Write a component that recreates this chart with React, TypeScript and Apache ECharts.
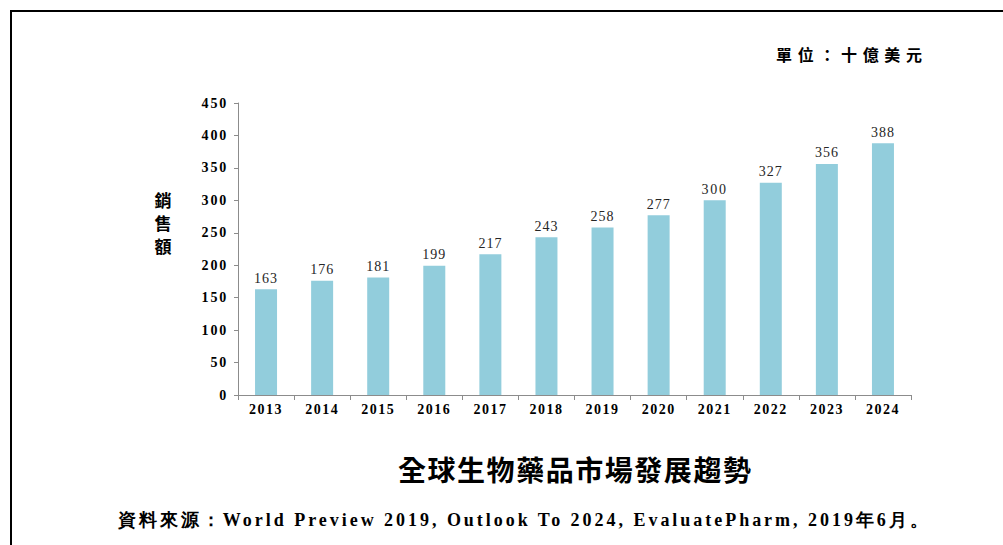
import React, { useEffect, useRef } from "react";
import * as echarts from "echarts";

const years = ["2013", "2014", "2015", "2016", "2017", "2018", "2019", "2020", "2021", "2022", "2023", "2024"];
const sales = [163, 176, 181, 199, 217, 243, 258, 277, 300, 327, 356, 388];
const yTicks = { min: 0, max: 450, interval: 50 };
const title = "全球生物藥品市場發展趨勢";
const unitText = "單位：十億美元";
const yName = "銷\n售\n額";
const sourceText = "資料來源：World Preview 2019, Outlook To 2024, EvaluatePharm, 2019年6月。";

const serif = "'Liberation Serif', 'Times New Roman', serif";
const cjk = "'Noto Sans CJK TC', 'Noto Sans CJK SC', sans-serif";

export default function App() {
  const ref = useRef<HTMLDivElement>(null);
  useEffect(() => {
    document.body.style.margin = "0";
    const chart = echarts.init(ref.current!, undefined, { renderer: "svg" });
    chart.setOption({
      animation: false,
      backgroundColor: "#ffffff",
      grid: { left: 238, right: 92, top: 103, bottom: 150, containLabel: false },
      xAxis: {
        type: "category",
        data: years,
        axisLine: { lineStyle: { color: "#8c8c8c", width: 1 } },
        axisTick: { show: true, length: 5, alignWithLabel: false, lineStyle: { color: "#8c8c8c" } },
        axisLabel: { color: "#000", fontFamily: serif, fontWeight: "bold", fontSize: 14, margin: 7 },
      },
      yAxis: {
        type: "value",
        min: yTicks.min,
        max: yTicks.max,
        interval: yTicks.interval,
        splitLine: { show: false },
        axisLine: { show: true, lineStyle: { color: "#8c8c8c", width: 1 } },
        axisTick: { show: true, length: 4, lineStyle: { color: "#8c8c8c" } },
        axisLabel: { color: "#000", fontFamily: serif, fontWeight: "bold", fontSize: 14, margin: 10 },
      },
      series: [
        {
          type: "bar",
          data: sales,
          barWidth: 22,
          itemStyle: { color: "#92cddc" },
          label: {
            show: true,
            position: "top",
            distance: 4,
            color: "#262626",
            fontFamily: serif,
            fontSize: 14,
          },
        },
      ],
      graphic: [
        {
          type: "rect",
          shape: { x: 11, y: 11, width: 1010, height: 560 },
          style: { fill: "none", stroke: "#000", lineWidth: 2 },
          silent: true,
        },
        {
          type: "text",
          x: 776,
          y: 54,
          style: {
            text: unitText,
            fill: "#000",
            font: `bold 16px ${cjk}`,
            align: "left",
            verticalAlign: "middle",
          },
        },
        {
          type: "text",
          x: 163,
          y: 222,
          style: {
            text: yName,
            fill: "#000",
            font: `bold 17px ${cjk}`,
            lineHeight: 23,
            align: "center",
            verticalAlign: "middle",
          },
        },
        {
          type: "text",
          x: 398,
          y: 469,
          style: {
            text: title,
            fill: "#000",
            font: `bold 28px ${cjk}`,
            align: "left",
            verticalAlign: "middle",
          },
        },
        {
          type: "text",
          x: 118,
          y: 520,
          style: {
            text: sourceText,
            fill: "#000",
            font: `bold 18px ${serif}`,
            align: "left",
            verticalAlign: "middle",
          },
        },
      ],
    });

    const targets: Record<string, number> = {
      [unitText]: 146,
      [title]: 353,
      [sourceText]: 810,
    };
    const fixed: Record<string, number> = {};
    years.forEach((y) => (fixed[y] = 1.5));
    for (let v = yTicks.min; v <= yTicks.max; v += yTicks.interval) fixed[String(v)] = 1.8;
    sales.forEach((s) => {
      if (!(String(s) in fixed)) fixed[String(s)] = 1;
    });

    const applySpacing = () => {
      const root = ref.current;
      if (!root) return;
      root.querySelectorAll("text").forEach((t) => {
        const el = t as SVGTextElement;
        const content = (el.textContent || "").trim();
        if (content in targets) {
          if (el.getAttribute("data-ls")) return;
          const natural = el.getComputedTextLength();
          const n = Array.from(content).length;
          const s = Math.max(0, (targets[content] - natural) / (n - 1));
          el.setAttribute("letter-spacing", s.toFixed(2));
          el.setAttribute("data-ls", "1");
        } else if (content in fixed) {
          el.setAttribute("letter-spacing", String(fixed[content]));
        }
      });
    };
    applySpacing();
    chart.on("finished", applySpacing);
    const raf = requestAnimationFrame(applySpacing);
    return () => {
      cancelAnimationFrame(raf);
      chart.dispose();
    };
  }, []);
  return <div ref={ref} style={{ width: 1003, height: 545 }} />;
}
